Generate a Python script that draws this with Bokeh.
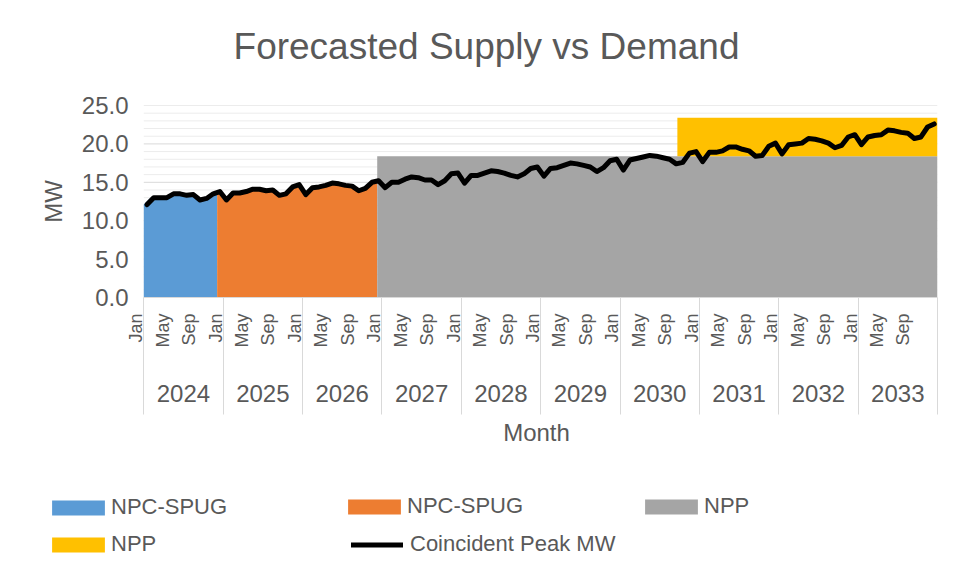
import math
from bokeh.plotting import figure
from bokeh.layouts import column
from bokeh.models import (Range1d, FixedTicker, LinearAxis, NumeralTickFormatter,
                          Legend, LegendItem, ColumnDataSource, Label)
from bokeh.embed import file_html
from bokeh.resources import INLINE

# ---------------- data ----------------
title_text = "Forecasted Supply vs Demand"
years = ["2024", "2025", "2026", "2027", "2028", "2029", "2030", "2031", "2032", "2033"]
month_names = ["Jan", "Feb", "Mar", "Apr", "May", "Jun", "Jul", "Aug", "Sep", "Oct", "Nov", "Dec"]
shown_months = ["Jan", "May", "Sep"]

peak_2024 = [12.1, 13.0, 13.0, 13.0, 13.5, 13.5, 13.3, 13.4, 12.7, 12.9, 13.5, 13.8]
peak_2025 = [12.7, 13.6, 13.6, 13.8, 14.1, 14.1, 13.9, 14.0, 13.3, 13.5, 14.4, 14.7]
peak_2026 = [13.4, 14.3, 14.4, 14.6, 14.9, 14.8, 14.6, 14.5, 13.9, 14.2, 15.0, 15.2]
peak_2027 = [14.3, 15.0, 15.0, 15.4, 15.7, 15.6, 15.3, 15.3, 14.7, 15.2, 16.1, 16.2]
peak_2028 = [14.9, 15.9, 15.9, 16.2, 16.5, 16.4, 16.2, 15.9, 15.7, 16.1, 16.8, 17.0]
peak_2029 = [15.8, 16.8, 16.9, 17.2, 17.5, 17.4, 17.2, 17.0, 16.4, 16.9, 17.8, 18.0]
peak_2030 = [16.6, 17.9, 18.1, 18.3, 18.5, 18.4, 18.2, 18.0, 17.4, 17.6, 18.8, 19.0]
peak_2031 = [17.7, 18.9, 18.9, 19.1, 19.6, 19.6, 19.3, 19.1, 18.4, 18.5, 19.7, 20.1]
peak_2032 = [18.7, 19.9, 20.0, 20.1, 20.7, 20.6, 20.4, 20.1, 19.5, 19.8, 20.9, 21.2]
peak_2033 = [19.9, 20.9, 21.1, 21.2, 21.8, 21.7, 21.5, 21.4, 20.7, 20.9, 22.2, 22.6]

coincident_peak = (peak_2024 + peak_2025 + peak_2026 + peak_2027 + peak_2028 +
                   peak_2029 + peak_2030 + peak_2031 + peak_2032 + peak_2033)
n_months = len(coincident_peak)

# supply series (None = blank month)
npc_spug_1 = coincident_peak[0:12] + [None] * (n_months - 12)
npc_spug_2 = [None] * 11 + coincident_peak[11:36] + [None] * (n_months - 36)
npp_1 = [None] * 35 + [18.4] * (n_months - 35)
npp_2 = [None] * 80 + [5.0] * (n_months - 80)

y_major = [0, 5, 10, 15, 20, 25]
y_minor = [v for v in range(26) if v % 5]

legend_labels = ["NPC-SPUG", "NPC-SPUG", "NPP", "NPP", "Coincident Peak MW"]

# ---------------- styles ----------------
FONT = "Liberation Sans"
TXT = "#595959"
GRID = "#d9d9d9"
GRID_MINOR = "#ececec"
C_BLUE, C_ORANGE, C_GRAY, C_YELLOW = "#5B9BD5", "#ED7D31", "#A5A5A5", "#FFC000"
W = 946
H_HDR = 80
H_MAIN = 380
H_LEG = 103
label_shift = -1.15   # month labels sit a little left of the month start


def no_align(fig):
    if "frame_align" in fig.properties():
        fig.frame_align = False


# ---------------- header (title) ----------------
hdr = figure(width=W, height=H_HDR, x_range=Range1d(0, 1), y_range=Range1d(0, 1),
             output_backend="svg", toolbar_location=None, x_axis_type=None, y_axis_type=None,
             min_border=0)
hdr.outline_line_color = None
hdr.grid.visible = False
no_align(hdr)
hdr.add_layout(Label(x=486, y=34, x_units="screen", y_units="screen", text=title_text,
                     text_align="center", text_baseline="alphabetic",
                     text_font=FONT, text_font_size="37px", text_color=TXT))

# ---------------- main chart ----------------
p = figure(width=W, height=H_MAIN, x_range=Range1d(label_shift - 0.1, n_months),
           y_range=Range1d(0, 25),
           output_backend="svg", toolbar_location=None,
           min_border_left=135, min_border_right=9, min_border_top=105 - H_HDR,
           min_border_bottom=H_MAIN - (297 - H_HDR))
p.outline_line_color = None
p.background_fill_color = "white"
p.border_fill_color = "white"
no_align(p)

# grid lines drawn over the category extent only
p.grid.visible = False
p.segment(x0=0, x1=n_months, y0=y_minor, y1=y_minor, line_color=GRID_MINOR, line_width=1)
p.segment(x0=0, x1=n_months, y0=y_major, y1=y_major, line_color=GRID, line_width=1)

# y axis
p.yaxis.ticker = FixedTicker(ticks=y_major)
p.yaxis.formatter = NumeralTickFormatter(format="0.0")
p.yaxis.axis_label = "MW"
p.yaxis.axis_label_text_font = FONT
p.yaxis.axis_label_text_font_size = "24px"
p.yaxis.axis_label_text_font_style = "normal"
p.yaxis.axis_label_text_color = TXT
p.yaxis.axis_label_standoff = 12
p.yaxis.major_label_text_font = FONT
p.yaxis.major_label_text_font_size = "24px"
p.yaxis.major_label_text_color = TXT
p.yaxis.major_label_standoff = 7
p.yaxis.axis_line_color = None
p.yaxis.major_tick_line_color = None
p.yaxis.minor_tick_line_color = None
p.yaxis.major_tick_out = 0
p.yaxis.major_tick_in = 0
p.yaxis.minor_tick_out = 0
p.yaxis.minor_tick_in = 0

# ---- x axis 0: category axis line only
ax0 = p.xaxis[0]
ax0.ticker = FixedTicker(ticks=[])
ax0.bounds = (0, n_months)
ax0.axis_line_color = GRID
ax0.major_tick_out = 0
ax0.major_tick_in = 0
ax0.minor_tick_out = 0
ax0.minor_tick_in = 0
ax0.major_label_standoff = 0

# ---- x axis 1: month labels
month_ticks = []
month_over = {}
for yi, _ in enumerate(years):
    for mname in shown_months:
        t = round(yi * 12 + month_names.index(mname) + label_shift, 3)
        month_ticks.append(t)
        month_over[t] = mname
ax1 = LinearAxis(ticker=FixedTicker(ticks=month_ticks), major_label_overrides=month_over,
                 major_label_orientation=math.pi / 2,
                 major_label_text_font=FONT, major_label_text_font_size="18px",
                 major_label_text_color=TXT, major_label_standoff=16,
                 axis_line_color=None, major_tick_line_color=None, minor_tick_line_color=None,
                 major_tick_out=0, major_tick_in=0, minor_tick_out=0, minor_tick_in=0)
p.add_layout(ax1, "below")

# ---- x axis 2: year labels
year_ticks = [yi * 12 + 6 for yi in range(len(years))]
ax2 = LinearAxis(ticker=FixedTicker(ticks=year_ticks),
                 major_label_overrides={t: y for t, y in zip(year_ticks, years)},
                 axis_line_color=None, major_tick_line_color=None, minor_tick_line_color=None,
                 major_tick_out=0, major_tick_in=0, minor_tick_out=0, minor_tick_in=0,
                 major_label_text_font=FONT, major_label_text_font_size="24px",
                 major_label_text_color=TXT, major_label_standoff=34)
p.add_layout(ax2, "below")

# ---- x axis 3: year separators + axis title
sep_ticks = [yi * 12 for yi in range(len(years) + 1)]
ax3 = LinearAxis(ticker=FixedTicker(ticks=sep_ticks),
                 major_label_overrides={t: "" for t in sep_ticks},
                 major_label_text_font_size="1px", major_label_standoff=0,
                 axis_line_color=None, minor_tick_line_color=None,
                 minor_tick_out=0, minor_tick_in=0,
                 major_tick_line_color=GRID, major_tick_in=107, major_tick_out=10,
                 axis_label="Month", axis_label_text_font=FONT, axis_label_text_font_size="24px",
                 axis_label_text_font_style="normal", axis_label_text_color=TXT,
                 axis_label_standoff=4)
p.add_layout(ax3, "below")

# ---------------- glyphs ----------------
x_area = [j * n_months / (n_months - 1) for j in range(n_months)]


def area(series, base=None, color=None):
    idx = [j for j, v in enumerate(series) if v is not None]
    y1 = [0 if base is None else base[j] for j in idx]
    y2 = [series[j] + (0 if base is None else base[j]) for j in idx]
    src = ColumnDataSource(dict(x=[x_area[j] for j in idx], y1=y1, y2=y2))
    return p.varea(x="x", y1="y1", y2="y2", source=src, fill_color=color)


area(npc_spug_1, color=C_BLUE)
area(npc_spug_2, color=C_ORANGE)
area(npp_1, color=C_GRAY)
area(npp_2, base=npp_1, color=C_YELLOW)

line_src = ColumnDataSource(dict(x=[i + 0.5 for i in range(n_months)], y=coincident_peak))
p.line(x="x", y="y", source=line_src, line_color="black", line_width=5,
       line_join="round", line_cap="round")

# ---------------- legend strip (separate figure under the chart) ----------------
pl = figure(width=W, height=H_LEG, x_range=Range1d(0, 1), y_range=Range1d(0, 1),
            output_backend="svg", toolbar_location=None, x_axis_type=None, y_axis_type=None,
            min_border=0)
pl.outline_line_color = None
pl.grid.visible = False
pl.background_fill_color = "white"
pl.border_fill_color = "white"
no_align(pl)

nan = float("nan")
lr_blue = pl.varea(x=[nan], y1=[nan], y2=[nan], fill_color=C_BLUE)
lr_orange = pl.varea(x=[nan], y1=[nan], y2=[nan], fill_color=C_ORANGE)
lr_gray = pl.varea(x=[nan], y1=[nan], y2=[nan], fill_color=C_GRAY)
lr_yellow = pl.varea(x=[nan], y1=[nan], y2=[nan], fill_color=C_YELLOW)
lr_line = pl.line(x=[nan], y=[nan], line_color="black", line_width=5, line_cap="round")
proxies = [lr_blue, lr_orange, lr_gray, lr_yellow, lr_line]
items = [LegendItem(label=lab, renderers=[r]) for lab, r in zip(legend_labels, proxies)]


def add_legend(its, loc, glyph_width=66, label_standoff=0):
    lg = Legend(items=its, location=loc, orientation="vertical",
                glyph_width=glyph_width, glyph_height=19, label_standoff=label_standoff,
                spacing=11, padding=0, margin=0, border_line_color=None,
                background_fill_alpha=0,
                label_text_font=FONT, label_text_font_size="22px", label_text_color=TXT)
    pl.add_layout(lg, "center")


add_legend([items[0], items[3]], (45, 6))
add_legend([items[1]], (341, 44))
add_legend([items[4]], (351, 6), glyph_width=52, label_standoff=7)
add_legend([items[2]], (638, 44))

layout = column(hdr, p, pl, spacing=0)
open("out.html", "w").write(file_html(layout, INLINE))
